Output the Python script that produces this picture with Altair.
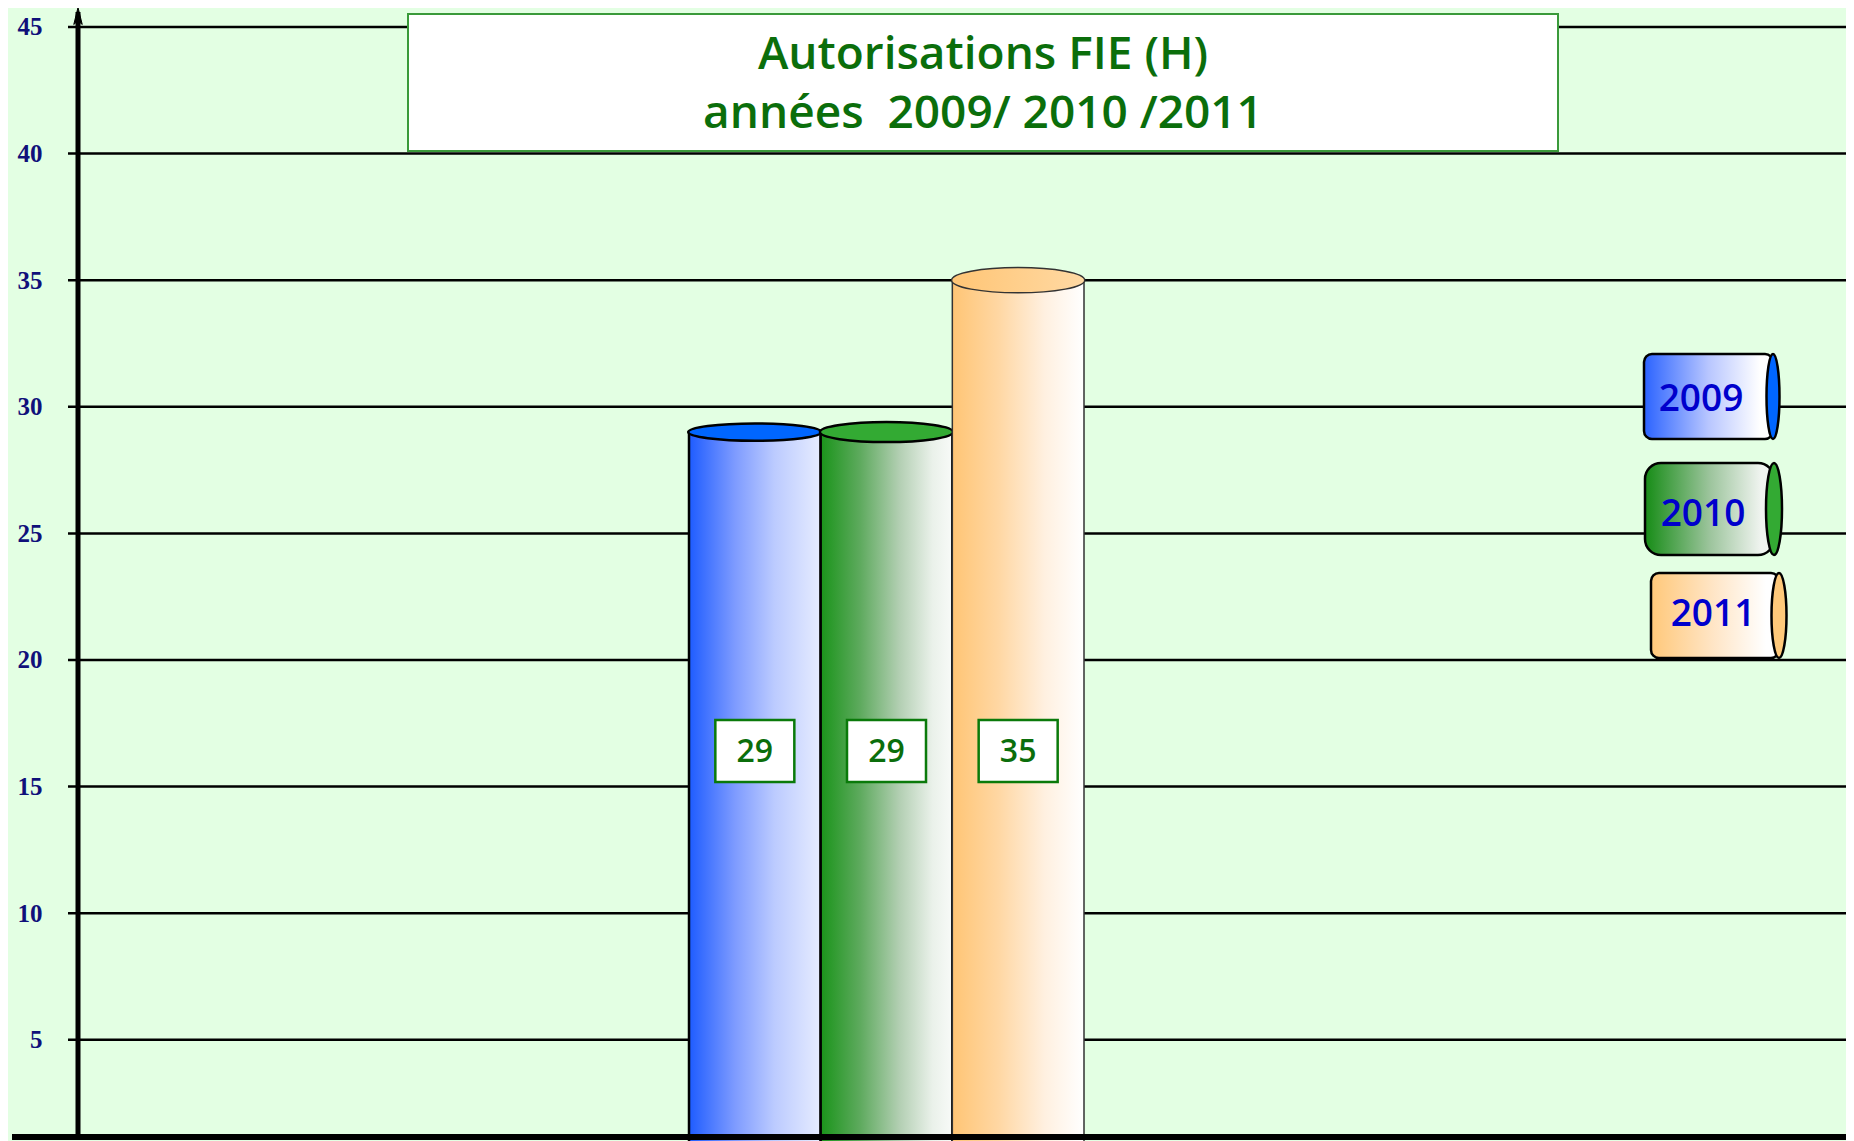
import altair as alt
import pandas as pd

# ---------------- data ----------------
years = ["2009", "2010", "2011"]
values = [29, 29, 35]
y_ticks = [5, 10, 15, 20, 25, 30, 35, 40, 45]
title_lines = ["Autorisations FIE (H)", "années\u00a0 2009/ 2010 /2011"]

df = pd.DataFrame({"year": years, "value": values})
grid_df = pd.DataFrame({"tick": y_ticks})
one = pd.DataFrame({"k": [0]})

# ---------------- layout / style ----------------
W, H = 1768, 1128
Y_DOMAIN = [1.2, 45.75]
X_RANGE = [611, 1006]
STEP = (X_RANGE[1] - X_RANGE[0]) / 3

BG = "#e3ffe3"
GREEN_TXT = "#0b6e0b"


def grad(stops):
    return alt.LinearGradient(
        gradient="linear",
        stops=[alt.GradientStop(color=c, offset=o) for c, o in stops],
        x1=0, x2=1, y1=0, y2=0,
    )


BAR_FILL = {
    "2009": grad([("#1e5cff", 0), ("#7e9bff", 0.35), ("#bccbff", 0.65), ("#e6ecff", 1)]),
    "2010": grad([("#1a941a", 0), ("#5eaa5e", 0.3), ("#b3cfb3", 0.6), ("#eaf1ea", 0.85), ("#f8faf8", 1)]),
    "2011": grad([("#ffc575", 0), ("#ffd7a3", 0.35), ("#fff0e0", 0.7), ("#ffffff", 1)]),
}
BAR_STROKE = {"2009": ("black", 2.5), "2010": ("black", 2.5), "2011": ("#333333", 1.5)}
TOP_FILL = {
    "2009": "#0066ff",
    "2010": "#33aa33",
    "2011": grad([("#ffc575", 0), ("#ffd9a3", 1)]),
}
TOP_RATIO = {"2009": 0.13, "2010": 0.15, "2011": 0.19}

# legend layout in plot pixels: body x0, x1, y0, y1, end-ellipse width, text x, text y, corner radius
LEGEND = {
    "2009": (1566, 1695, 346, 431, 13, 1623, 392, 8),
    "2010": (1567, 1696, 455, 547, 16, 1625, 507, 16),
    "2011": (1573, 1701, 565, 650, 15, 1635, 607, 8),
}
LEG_FILL = {
    "2009": grad([("#2b63ff", 0), ("#b8c6ff", 0.5), ("#ffffff", 0.9)]),
    "2010": grad([("#168c16", 0), ("#9cc49c", 0.5), ("#f0f4f0", 0.9)]),
    "2011": grad([("#ffc87a", 0), ("#ffe6c8", 0.5), ("#ffffff", 0.9)]),
}
LEG_END = {"2009": "#0066ff", "2010": "#33aa33", "2011": "#ffc97a"}


def ellipse_path(rx, ry):
    c = 0.5523
    return (
        f"M {-rx} 0 C {-rx} {-ry*c} {-rx*c} {-ry} 0 {-ry} "
        f"C {rx*c} {-ry} {rx} {-ry*c} {rx} 0 "
        f"C {rx} {ry*c} {rx*c} {ry} 0 {ry} "
        f"C {-rx*c} {ry} {-rx} {ry*c} {-rx} 0 Z"
    )


RECT_PATH = "M -1 -0.785 L 1 -0.785 L 1 0.785 L -1 0.785 Z"
ARROW_PATH = "M 0 -1 L 0.5 1 L 0 0.55 L -0.5 1 Z"

X = alt.X(
    "year:N",
    scale=alt.Scale(domain=years, type="band", paddingInner=0, paddingOuter=0, range=X_RANGE),
    axis=None,
)
Y_SCALE = alt.Scale(domain=Y_DOMAIN, zero=False, nice=False)
Y_AXIS = alt.Axis(
    values=y_ticks, grid=False, domain=False, ticks=False,
    labelFont="Liberation Serif", labelFontWeight="bold", labelFontSize=25,
    labelColor="#10107a", labelPadding=36, title=None,
)
Y = alt.Y("value:Q", scale=Y_SCALE, axis=Y_AXIS)

base = alt.Chart(df)
layers = []

# gridlines (with the small tick left of the axis) + axis labels
layers.append(
    alt.Chart(grid_df).mark_rule(color="black", strokeWidth=2.5).encode(
        y=alt.Y("tick:Q", scale=Y_SCALE, axis=Y_AXIS), x=alt.value(-10), x2=alt.value(W)
    )
)

# title box
layers.append(
    alt.Chart(one).mark_rect(fill="white", stroke="#3a9a3a", strokeWidth=2).encode(
        x=alt.value(330), x2=alt.value(1480), y=alt.value(6), y2=alt.value(143)
    )
)

# cylinders
for yr in years:
    s_col, s_w = BAR_STROKE[yr]
    layers.append(
        base.transform_filter(alt.datum.year == yr)
        .mark_bar(fill=BAR_FILL[yr], stroke=s_col, strokeWidth=s_w, opacity=1)
        .encode(x=X, y=Y)
    )
    layers.append(
        base.transform_filter(alt.datum.year == yr)
        .mark_point(
            shape=ellipse_path(1, TOP_RATIO[yr]), size=(STEP + 1.5) ** 2, filled=True,
            fill=TOP_FILL[yr], stroke=s_col, strokeWidth=s_w, opacity=1,
        )
        .encode(x=X, y=Y)
    )

# value labels
layers.append(
    base.mark_point(shape=RECT_PATH, size=79 ** 2, filled=True, fill="white",
                    stroke="#0a7a0a", strokeWidth=2.5, opacity=1)
    .encode(x=X, y=alt.value(743))
)
layers.append(
    base.mark_text(font="Open Sans", fontSize=32, fontWeight=600, color=GREEN_TXT,
                   align="center", baseline="middle")
    .encode(x=X, y=alt.value(744), text="value:Q")
)

# title text
title_df = pd.DataFrame({"line": title_lines, "idx": [0, 1]})
for i, ypix in enumerate([47, 106]):
    layers.append(
        alt.Chart(title_df).transform_filter(alt.datum.idx == i)
        .mark_text(font="Open Sans", fontSize=46, fontWeight=600, color=GREEN_TXT,
                   align="center", baseline="middle")
        .encode(x=alt.value(905), y=alt.value(ypix), text="line:N")
    )

# legend
for yr in years:
    x0, x1, y0, y1, ew, tx, ty, cr = LEGEND[yr]
    sub = base.transform_filter(alt.datum.year == yr)
    layers.append(
        sub.mark_rect(fill=LEG_FILL[yr], stroke="black", strokeWidth=2.5, cornerRadius=cr)
        .encode(x=alt.value(x0), x2=alt.value(x1), y=alt.value(y0), y2=alt.value(y1))
    )
    h = y1 - y0
    layers.append(
        sub.mark_point(shape=ellipse_path(ew / h, 1), size=h ** 2, filled=True,
                       fill=LEG_END[yr], stroke="black", strokeWidth=2.5, opacity=1)
        .encode(x=alt.value(x1), y=alt.value((y0 + y1) / 2))
    )
    layers.append(
        sub.mark_text(font="Open Sans", fontSize=37, fontWeight=600, color="#0000cc",
                      align="center", baseline="middle")
        .encode(x=alt.value(tx), y=alt.value(ty), text="year:N")
    )

# axes lines
layers.append(
    alt.Chart(one).mark_rule(color="black", strokeWidth=5).encode(
        x=alt.value(0), y=alt.value(4), y2=alt.value(H + 2)
    )
)
layers.append(
    alt.Chart(one).mark_point(shape=ARROW_PATH, size=17 ** 2, filled=True, fill="black",
                              opacity=1, stroke="black", strokeWidth=1)
    .encode(x=alt.value(0), y=alt.value(8))
)
layers.append(
    alt.Chart(one).mark_rule(color="black", strokeWidth=6).encode(
        x=alt.value(-66), x2=alt.value(W), y=alt.value(H + 1)
    )
)

chart = (
    alt.layer(*layers)
    .properties(
        width=W, height=H, background=BG,
        padding={"left": 70, "top": 0, "right": 0, "bottom": 5},
        autosize=alt.AutoSizeParams(type="none"),
    )
    .configure_view(stroke=None)
)

chart.save("out.html", embed_options={"renderer": "svg", "actions": False})
